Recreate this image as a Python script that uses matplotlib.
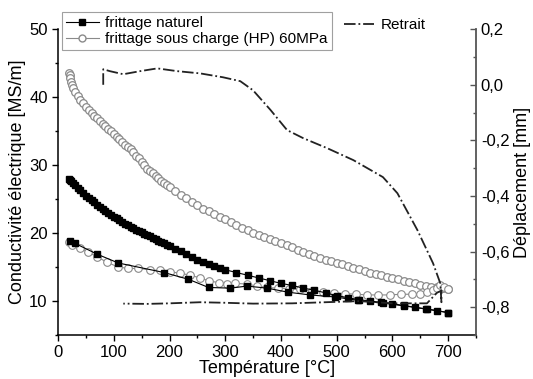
import matplotlib
matplotlib.use('Agg')
import matplotlib.pyplot as plt
from matplotlib.lines import Line2D
from matplotlib.ticker import MultipleLocator, FuncFormatter

plt.rcParams['font.family'] = ['Liberation Sans', 'DejaVu Sans']

# frittage naturel - chauffage (points espaces)
nat_up_T = [22, 30, 70, 108, 190, 234, 270, 309, 339, 375, 413, 452, 497, 539, 583, 620, 662, 700]
nat_up_v = [18.8, 18.5, 16.9, 15.6, 14.2, 13.2, 12.0, 11.9, 12.2, 11.9, 11.3, 10.9, 10.6, 10.1, 9.7, 9.3, 8.8, 8.3]

# frittage naturel - refroidissement (points denses a basse temperature)
nat_down_T = [20, 22, 24, 27, 30, 35, 40, 45, 50, 55, 60, 65, 70, 75, 80, 85, 90, 95, 100, 105, 110,
              115, 120, 125, 130, 135, 140, 145, 150, 155, 160, 165, 170, 175, 180, 185, 190, 195, 200,
              210, 220, 230, 240, 250, 260, 270, 280, 290, 300, 320, 340, 360, 380, 400, 420, 440, 460,
              480, 500, 520, 540, 560, 580, 600, 620, 640, 660, 680, 700]
nat_down_v = [28.0, 27.8, 27.6, 27.4, 27.1, 26.7, 26.3, 25.9, 25.5, 25.1, 24.8, 24.5, 24.2, 23.9, 23.6,
              23.3, 23.0, 22.7, 22.4, 22.15, 21.9, 21.65, 21.4, 21.15, 20.9, 20.7, 20.5, 20.3, 20.1, 19.9,
              19.7, 19.5, 19.3, 19.1, 18.9, 18.7, 18.5, 18.3, 18.1, 17.7, 17.3, 16.9, 16.5, 16.1, 15.8,
              15.5, 15.2, 14.9, 14.6, 14.2, 13.8, 13.4, 13.0, 12.6, 12.3, 11.9, 11.6, 11.2, 10.8, 10.5,
              10.2, 10.0, 9.8, 9.6, 9.35, 9.1, 8.85, 8.6, 8.3]

# frittage HP 60MPa - chauffage
hp_up_T = [20, 25, 40, 54, 70, 88, 108, 126, 144, 165, 183, 201, 219, 237, 255, 270, 288, 303, 318, 339,
           357, 375, 395, 415, 435, 455, 475, 495, 515, 535, 555, 575, 595, 615, 635, 650, 662, 672, 680,
           686, 692, 700]
hp_up_v = [18.7, 18.2, 17.8, 17.2, 16.5, 15.7, 15.0, 14.8, 14.8, 14.6, 14.5, 14.3, 14.1, 13.8, 13.4, 13.0,
           12.7, 12.5, 12.6, 12.5, 12.2, 12.0, 11.9, 11.8, 11.7, 11.5, 11.3, 11.2, 11.1, 11.0, 10.9, 10.9,
           10.9, 11.0, 11.0, 11.1, 11.3, 11.6, 11.9, 12.4, 12.0, 11.8]

# frittage HP 60MPa - refroidissement (points denses)
hp_down_T = [20, 21, 22, 23, 25, 27, 30, 35, 40, 45, 50, 55, 60, 65, 70, 75, 80, 85, 90, 95, 100, 105,
             110, 115, 120, 125, 130, 135, 140, 145, 150, 155, 160, 165, 170, 175, 180, 185, 190, 195, 200,
             210, 220, 230, 240, 250, 260, 270, 280, 290, 300, 310, 320, 330, 340, 350, 360, 370, 380, 390,
             400, 410, 420, 430, 440, 450, 460, 470, 480, 490, 500, 510, 520, 530, 540, 550, 560, 570, 580,
             590, 600, 610, 620, 630, 640, 650, 660, 670, 680, 690, 700]
hp_down_v = [43.6, 43.2, 42.8, 42.3, 41.8, 41.3, 40.8, 40.2, 39.6, 39.1, 38.6, 38.1, 37.7, 37.3, 37.0, 36.5,
             36.1, 35.7, 35.3, 35.0, 34.6, 34.2, 33.8, 33.4, 33.0, 32.7, 32.3, 31.9, 31.4, 31.0, 30.5, 30.0,
             29.5, 29.2, 28.8, 28.4, 28.1, 27.7, 27.4, 27.1, 26.8, 26.2, 25.6, 25.1, 24.6, 24.1, 23.6, 23.2,
             22.8, 22.4, 22.0, 21.6, 21.2, 20.8, 20.4, 20.0, 19.7, 19.4, 19.1, 18.8, 18.5, 18.2, 17.9, 17.5,
             17.2, 16.9, 16.6, 16.35, 16.1, 15.9, 15.65, 15.4, 15.15, 14.9, 14.65, 14.45, 14.2, 14.0, 13.8,
             13.6, 13.4, 13.2, 13.0, 12.8, 12.6, 12.4, 12.2, 12.1, 12.0, 11.9, 11.7]

# retrait (axe de droite, mm)
ret_T = [81, 81, 93, 117, 147, 178, 214, 255, 296, 327, 350, 381, 411, 440, 483, 530, 583, 609, 645, 673,
         686, 688, 688, 680, 662, 600, 540, 480, 420, 350, 300, 255, 200, 160, 117]
ret_v = [0.0, 0.056, 0.049, 0.038, 0.049, 0.059, 0.049, 0.041, 0.027, 0.013, -0.02, -0.09, -0.163, -0.192,
         -0.228, -0.271, -0.332, -0.39, -0.523, -0.642, -0.714, -0.782, -0.74, -0.748, -0.786, -0.786,
         -0.778, -0.782, -0.786, -0.787, -0.784, -0.782, -0.786, -0.788, -0.787]

fig = plt.figure(figsize=(5.33, 3.79), dpi=100)
ax = fig.add_axes([0.109, 0.116, 0.784, 0.807])
ax2 = ax.twinx()

grey = '#8a8a8a'
ax.plot(hp_down_T, hp_down_v, color=grey, lw=0.8, marker='o', ms=5.5, mfc='white', mec=grey, mew=0.9)
ax.plot(hp_up_T, hp_up_v, color=grey, lw=0.8, marker='o', ms=5.5, mfc='white', mec=grey, mew=0.8)
ax.plot(nat_down_T, nat_down_v, color='black', lw=0.8, marker='s', ms=4.5)
ax.plot(nat_up_T, nat_up_v, color='black', lw=0.8, marker='s', ms=4.5)

ax2.plot(ret_T, ret_v, color='#222222', lw=1.3, ls='-.')

ax.set_xlim(0, 750)
ax.set_ylim(5, 50)
ax2.set_ylim(-0.9, 0.2)

ax.xaxis.set_major_locator(MultipleLocator(100))
ax.xaxis.set_minor_locator(MultipleLocator(50))
ax.yaxis.set_major_locator(MultipleLocator(10))
ax.yaxis.set_minor_locator(MultipleLocator(5))
ax2.yaxis.set_major_locator(MultipleLocator(0.2))
ax2.yaxis.set_minor_locator(MultipleLocator(0.1))
ax2.yaxis.set_major_formatter(FuncFormatter(lambda v, p: ('%.1f' % v).replace('.', ',').replace('-0,0', '0,0')))

for a in (ax, ax2):
    a.spines['top'].set_visible(False)
ax.spines['right'].set_visible(False)
ax2.spines['left'].set_visible(False)
ax2.spines['bottom'].set_visible(False)
ax2.spines['right'].set_color('#555555')
ax2.spines['right'].set_linewidth(1.3)
ax.spines['left'].set_linewidth(1.1)
ax.spines['bottom'].set_linewidth(1.1)

ax.tick_params(which='major', direction='out', length=4, width=1, labelsize=12)
ax.tick_params(which='minor', direction='out', length=2.5, width=1)
ax2.tick_params(which='major', direction='in', length=4, width=1, color='#555555', labelsize=12)
ax2.tick_params(which='minor', direction='in', length=2.5, width=1, color='#555555')

ax.set_xlabel('Température [°C]', fontsize=13, labelpad=0)
ax.set_ylabel('Conductivité électrique [MS/m]', fontsize=13, labelpad=2)
ax2.set_ylabel('Déplacement [mm]', fontsize=13, labelpad=3)

h1 = [Line2D([], [], color='black', lw=0.8, marker='s', ms=4.5),
      Line2D([], [], color=grey, lw=0.8, marker='o', ms=5, mfc='white', mec=grey)]
leg1 = fig.legend(h1, ['frittage naturel', 'frittage sous charge (HP) 60MPa'], loc='upper left',
                  bbox_to_anchor=(0.116, 0.968), fontsize=11, frameon=True, fancybox=False,
                  edgecolor='#888888', borderpad=0.25, labelspacing=0.15, handlelength=2.2,
                  handletextpad=0.4, borderaxespad=0)
leg1.get_frame().set_linewidth(0.8)
fig.legend([Line2D([], [], color='#222222', lw=1.3, ls='-.')], ['Retrait'], loc='upper left',
           bbox_to_anchor=(0.645, 0.952), fontsize=11, frameon=False, handlelength=2.0,
           handletextpad=0.4, borderaxespad=0, borderpad=0)

plt.savefig('out.png', dpi=100)
